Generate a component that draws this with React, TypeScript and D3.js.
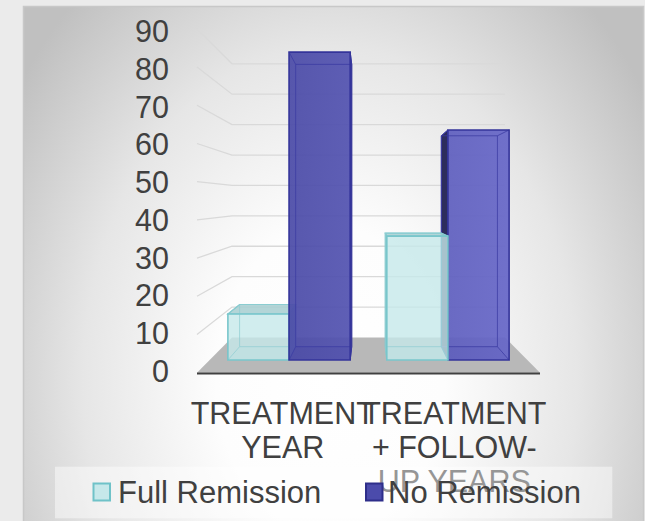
import React from 'react';
import * as d3 from 'd3';

// ---- data ----
const categories = ['TREATMENT YEAR', 'TREATMENT + FOLLOW-UP YEARS'];
const categoryLines = [
  ['TREATMENT', 'YEAR'],
  ['TREATMENT', '+ FOLLOW-', 'UP YEARS'],
];
const seriesNames = ['Full Remission', 'No Remission'];
const fullRemission = [13, 35];
const noRemission = [87, 65];
const yTicks = [0, 10, 20, 30, 40, 50, 60, 70, 80, 90];

// ---- styling ----
const W = 645;
const H = 521;
const FONT = 'Liberation Sans, Arial, Helvetica, sans-serif';
const TEXT = '#404040';

type SeriesStyle = {
  front: string;
  frontOpacity: number;
  side: string;
  top: string;
  stroke: string;
  inner: string;
};
const seriesStyles: SeriesStyle[] = [
  { front: '#c6e8ea', frontOpacity: 0.8, side: '#94c6c9', top: '#abd0d3', stroke: '#78c6cb', inner: '#92cfd3' },
  { front: 'url(#blueFace)', frontOpacity: 0.93, side: '#2d2d5c', top: '#3a3a90', stroke: '#34349a', inner: '#3b3ba2' },
];

// ---- 3D projection (single vanishing point) ----
const VP = { x: 368.5, y: 200 };
const DEPTH = { front: 1, barFront: 0.9265, barBack: 0.8494, back: 0.796 };
const proj = (X: number, Y: number, s: number): [number, number] => [
  VP.x + (X - VP.x) * s,
  VP.y + (Y - VP.y) * s,
];
const pts = (p: [number, number][]) => p.map((q) => q.join(',')).join(' ');

const x = d3.scaleBand<string>().domain(categories).range([197, 540]).padding(0);
const xs = d3
  .scaleBand<string>()
  .domain(seriesNames)
  .range([0, x.bandwidth()])
  .paddingInner(0)
  .paddingOuter(0.299);
const y = d3.scaleLinear().domain([0, 90]).range([372.7, 28.9]);

const seriesValues = [fullRemission, noRemission];

type Bar = { cat: number; ser: number; X0: number; X1: number; Yt: number; Yb: number };

function buildBars(): Bar[] {
  const bars: Bar[] = [];
  categories.forEach((c, i) => {
    seriesNames.forEach((s, j) => {
      const X0 = (x(c) as number) + (xs(s) as number);
      bars.push({ cat: i, ser: j, X0, X1: X0 + xs.bandwidth(), Yt: y(seriesValues[j][i]), Yb: y(0) });
    });
  });
  // farther from the vanishing point first, so nearer boxes cover them
  return bars.sort(
    (a, b) => Math.abs((b.X0 + b.X1) / 2 - VP.x) - Math.abs((a.X0 + a.X1) / 2 - VP.x)
  );
}

function Box({ bar }: { bar: Bar }) {
  const st = seriesStyles[bar.ser];
  const { X0, X1, Yt, Yb } = bar;
  const f = (X: number, Y: number) => proj(X, Y, DEPTH.barFront);
  const b = (X: number, Y: number) => proj(X, Y, DEPTH.barBack);
  const front = [f(X0, Yt), f(X1, Yt), f(X1, Yb), f(X0, Yb)];
  const back = [b(X0, Yt), b(X1, Yt), b(X1, Yb), b(X0, Yb)];
  const bottom = [f(X0, Yb), f(X1, Yb), b(X1, Yb), b(X0, Yb)];
  const left = [f(X0, Yt), b(X0, Yt), b(X0, Yb), f(X0, Yb)];
  const right = [f(X1, Yt), b(X1, Yt), b(X1, Yb), f(X1, Yb)];
  const top = [f(X0, Yt), f(X1, Yt), b(X1, Yt), b(X0, Yt)];
  const showLeft = X0 > VP.x;
  const showRight = X1 < VP.x;
  const showTop = Yt > VP.y;
  const hidden: [[number, number], [number, number]][] = [
    [back[0], back[1]],
    [back[1], back[2]],
    [back[2], back[3]],
    [back[3], back[0]],
    [front[0], back[0]],
    [front[1], back[1]],
    [front[2], back[2]],
    [front[3], back[3]],
  ];
  return (
    <g>
      <polygon points={pts(bottom)} fill={st.side} fillOpacity={0.35} />
      {showLeft && <polygon points={pts(left)} fill={st.side} stroke={st.stroke} strokeWidth={1} />}
      {showRight && <polygon points={pts(right)} fill={st.side} stroke={st.stroke} strokeWidth={1} />}
      {showTop && <polygon points={pts(top)} fill={st.top} fillOpacity={0.9} stroke={st.stroke} strokeWidth={1.2} />}
      <polygon points={pts(front)} fill={st.front} fillOpacity={st.frontOpacity} />
      {hidden.map(([p, q], k) => (
        <line key={k} x1={p[0]} y1={p[1]} x2={q[0]} y2={q[1]} stroke={st.inner} strokeWidth={1} strokeOpacity={0.75} />
      ))}
      <polygon points={pts(front)} fill="none" stroke={st.stroke} strokeWidth={1.6} />
    </g>
  );
}

export default function App() {
  const bars = buildBars();
  const y0 = y(0);
  const Xl = 197;
  const Xr = 540;
  const floor = [proj(Xl, y0, DEPTH.front), proj(Xr, y0, DEPTH.front), proj(Xr, y0, DEPTH.back), proj(Xl, y0, DEPTH.back)];
  const labelDepth = 0.988;
  const lineGap = 34;

  return (
    <svg
      width={W}
      height={H}
      viewBox={`0 0 ${W} ${H}`}
      style={{ position: 'absolute', left: 0, top: 0, display: 'block' }}
      fontFamily={FONT}
    >
      <defs>
        <radialGradient
          id="bg"
          gradientUnits="userSpaceOnUse"
          cx={330}
          cy={380}
          r={380}
          gradientTransform="translate(330,380) scale(1,1.35) translate(-330,-380)"
        >
          <stop offset="0" stopColor="#ffffff" />
          <stop offset="0.3" stopColor="#fdfdfd" />
          <stop offset="0.65" stopColor="#e6e6e6" />
          <stop offset="1" stopColor="#c0c0c0" />
        </radialGradient>
        <linearGradient id="blueFace" gradientUnits="userSpaceOnUse" x1={280} y1={0} x2={510} y2={0}>
          <stop offset="0" stopColor="#4a4aa6" />
          <stop offset="1" stopColor="#6767c8" />
        </linearGradient>
      </defs>

      <rect x={0} y={0} width={W} height={H} fill="#ebebeb" />
      <rect x={23.5} y={6.5} width={620} height={530} fill="url(#bg)" stroke="#c8c8c8" strokeWidth={1.5} />

      {/* walls: gridlines on side and back */}
      {yTicks.filter((t) => t > 0).map((t) => {
        const a = proj(Xl, y(t), DEPTH.front);
        const c = proj(Xl, y(t), DEPTH.back);
        const d = proj(Xr, y(t), DEPTH.back);
        return (
          <polyline
            key={t}
            points={pts([a, c, d])}
            fill="none"
            stroke="#d9d9d9"
            strokeWidth={1.3}
          />
        );
      })}

      {/* floor */}
      <polygon points={pts(floor)} fill="#b8b8b8" />

      {/* bars */}
      {bars.map((bar) => (
        <Box key={`${bar.cat}-${bar.ser}`} bar={bar} />
      ))}

      {/* category axis line */}
      <line x1={floor[0][0]} y1={y0 + 0.8} x2={floor[1][0]} y2={y0 + 0.8} stroke="#404040" strokeWidth={2.2} />

      {/* value axis labels */}
      {yTicks.map((t) => {
        const p = proj(Xl, y(t), labelDepth);
        return (
          <text key={t} x={169} y={p[1] + 11.2} textAnchor="end" fontSize={30.5} fill={TEXT}>
            {t}
          </text>
        );
      })}

      {/* category labels */}
      {categories.map((c, i) => {
        const cx = (x(c) as number) + x.bandwidth() / 2;
        return (
          <text key={c} x={cx} y={423.5} textAnchor="middle" fontSize={30.5} fill={TEXT}>
            {categoryLines[i].map((ln, k) => (
              <tspan key={k} x={cx} y={423.5 + k * lineGap}>
                {ln}
              </tspan>
            ))}
          </text>
        );
      })}

      {/* legend */}
      <rect x={55} y={466.7} width={557.3} height={51.6} fill="#ffffff" fillOpacity={0.45} />
      {seriesNames.map((s, j) => {
        const sx = j === 0 ? 92.5 : 365;
        const tx = j === 0 ? 118 : 388;
        const st = seriesStyles[j];
        return (
          <g key={s}>
            <rect
              x={sx + 1}
              y={483.5}
              width={16.5}
              height={17}
              fill={j === 0 ? '#c6e8ea' : '#4b4bab'}
              stroke={j === 0 ? '#6fc2c8' : '#2e2e8a'}
              strokeWidth={2}
            />
            <text x={tx} y={502.7} fontSize={31} fill={TEXT}>
              {s}
            </text>
            {st ? null : null}
          </g>
        );
      })}
    </svg>
  );
}
